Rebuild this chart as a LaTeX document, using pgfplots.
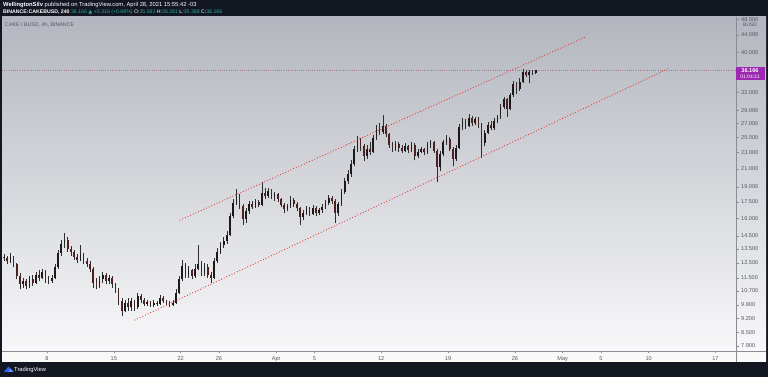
\documentclass[border=0pt]{standalone}
\usepackage{fontspec}
\setmainfont{Liberation Sans}
\newfontfamily\dejavu{DejaVu Sans}
\usepackage{pgfplots}
\pgfplotsset{compat=1.18}
\usepackage{pgfplotstable}
\definecolor{tvdark}{HTML}{131722}
\definecolor{tvtop}{HTML}{B3B6BE}
\definecolor{tvbot}{HTML}{FAFAFB}
\definecolor{tvgreen}{HTML}{26A69A}
\definecolor{tvred}{HTML}{E53935}
\definecolor{tvpurple}{HTML}{9C27B0}
\definecolor{tvaxis}{HTML}{8A8D96}
\definecolor{tvtext}{HTML}{555862}
\definecolor{upc}{HTML}{1A1A1A}
\definecolor{dnc}{HTML}{4E2020}
\definecolor{wick}{HTML}{2E2E2E}
\definecolor{tvblue}{HTML}{2962FF}
\definecolor{pline}{HTML}{A07A8C}

\pgfplotstableread{
d o h l c
2.50 12.9 13.1 12.6 12.8
2.83 12.8 12.95 12.4 12.6
3.17 12.6 13.2 12.5 12.9
3.50 12.9 13.0 12.2 12.4
3.83 12.4 12.5 11.4 11.6
4.17 11.6 11.8 10.8 11.1
4.50 11.1 11.5 10.9 11.3
4.83 11.3 11.4 10.8 11.0
5.17 11.0 11.6 10.9 11.4
5.50 11.4 11.7 11.0 11.2
5.83 11.2 11.9 11.1 11.7
6.17 11.7 12.0 11.3 11.5
6.50 11.5 12.1 11.4 11.9
6.83 11.9 12.0 11.2 11.4
7.17 11.4 11.6 11.1 11.3
7.50 11.3 11.7 11.2 11.5
7.83 11.5 12.4 11.4 12.2
8.17 12.2 13.4 12.1 13.2
8.50 13.2 14.2 13.0 13.9
8.83 13.9 14.7 13.6 14.2
9.17 14.2 14.4 13.3 13.5
9.50 13.5 13.7 13.0 13.3
9.83 13.3 13.4 12.7 12.9
10.17 12.9 13.1 12.5 12.7
10.50 12.7 13.8 12.6 13.1
10.83 13.1 13.2 12.4 12.6
11.17 12.6 12.8 12.2 12.4
11.50 12.4 12.6 11.9 12.1
11.83 12.1 12.2 10.9 11.2
12.17 11.2 11.5 10.8 11.0
12.50 11.0 11.6 10.9 11.4
12.83 11.4 11.9 11.2 11.7
13.17 11.7 11.8 11.1 11.3
13.50 11.3 11.7 11.1 11.5
13.83 11.5 11.6 10.9 11.1
14.17 11.1 11.2 10.6 10.8
14.50 10.8 10.9 9.9 10.1
14.83 10.1 10.3 9.3 9.6
15.17 9.6 10.2 9.5 10.0
15.50 10.0 10.3 9.6 9.8
15.83 9.8 10.3 9.6 10.1
16.17 10.1 10.2 9.6 9.8
16.50 9.8 10.6 9.7 10.4
16.83 10.4 10.5 10.0 10.2
17.17 10.2 10.3 9.85 9.95
17.50 9.95 10.2 9.85 10.05
17.83 10.05 10.1 9.8 9.9
18.17 9.9 10.15 9.8 10.0
18.50 10.0 10.1 9.85 9.95
18.83 9.95 10.45 9.9 10.3
19.17 10.3 10.4 10.0 10.1
19.50 10.1 10.2 9.9 10.0
19.83 10.0 10.1 9.8 9.9
20.17 9.9 10.15 9.85 10.0
20.50 10.0 10.8 9.95 10.6
20.83 10.6 11.6 10.5 11.4
21.17 11.4 12.7 11.3 12.3
21.50 12.3 12.5 11.5 11.7
21.83 11.7 12.3 11.5 12.0
22.17 12.0 12.1 11.4 11.6
22.50 11.6 12.4 11.5 12.1
22.83 12.1 13.8 12.0 12.4
23.17 12.4 12.6 11.6 11.8
23.50 11.8 12.5 11.6 12.2
23.83 12.2 12.4 11.5 11.7
24.17 11.7 11.9 11.2 11.5
24.50 11.5 12.8 11.4 12.6
24.83 12.6 13.6 12.5 13.3
25.17 13.3 14.0 13.1 13.8
25.50 13.8 14.4 13.6 14.1
25.83 14.1 14.9 13.9 14.6
26.17 14.6 16.5 14.5 16.2
26.50 16.2 17.8 16.0 17.4
26.83 17.4 18.8 17.2 18.0
27.17 18.0 18.3 16.8 17.1
27.50 17.1 17.3 15.4 15.9
27.83 15.9 16.9 15.6 16.6
28.17 16.6 17.6 16.4 17.3
28.50 17.3 17.6 16.8 17.0
28.83 17.0 17.8 16.9 17.5
29.17 17.5 17.7 17.0 17.2
29.50 17.2 19.5 17.1 18.4
29.83 18.4 18.9 17.8 18.1
30.17 18.1 18.9 17.9 18.6
30.50 18.6 18.8 17.8 18.0
30.83 18.0 18.5 17.6 18.3
31.17 18.3 18.4 17.5 17.8
31.50 17.8 17.9 17.0 17.2
31.83 17.2 17.4 16.5 16.8
32.17 16.8 17.3 16.6 17.1
32.50 17.1 18.1 16.9 17.7
32.83 17.7 17.9 17.0 17.3
33.17 17.3 17.5 16.6 16.9
33.50 16.9 17.0 15.4 16.1
33.83 16.1 16.7 15.8 16.5
34.17 16.5 17.1 16.3 16.8
34.50 16.8 17.0 16.2 16.4
34.83 16.4 17.2 16.3 16.9
35.17 16.9 17.1 16.2 16.5
35.50 16.5 16.9 16.3 16.7
35.83 16.7 17.3 16.5 17.0
36.17 17.0 17.7 16.8 17.4
36.50 17.4 18.2 17.2 17.9
36.83 17.9 18.1 17.3 17.6
37.17 17.6 17.8 15.6 16.5
37.50 16.5 17.5 16.2 17.3
37.83 17.3 18.8 17.1 18.5
38.17 18.5 20.0 18.3 19.6
38.50 19.6 20.9 19.3 20.4
38.83 20.4 22.0 20.1 21.6
39.17 21.6 23.8 21.3 23.4
39.50 23.4 25.2 23.1 24.6
39.83 24.6 24.9 23.2 23.8
40.17 23.8 24.1 21.9 22.6
40.50 22.6 23.9 22.2 23.5
40.83 23.5 24.3 22.7 23.1
41.17 23.1 25.3 22.9 24.9
41.50 24.9 26.7 24.6 26.2
41.83 26.2 27.0 25.3 25.7
42.17 25.7 28.3 25.4 26.6
42.50 26.6 26.9 25.0 25.4
42.83 25.4 25.6 23.6 24.0
43.17 24.0 24.4 23.1 23.5
43.50 23.5 24.5 23.2 24.1
43.83 24.1 24.3 23.1 23.6
44.17 23.6 23.9 22.9 23.2
44.50 23.2 24.2 23.0 23.8
44.83 23.8 24.0 22.9 23.3
45.17 23.3 24.4 23.0 24.0
45.50 24.0 24.2 22.0 22.6
45.83 22.6 23.5 22.3 23.1
46.17 23.1 23.7 22.9 23.4
46.50 23.4 23.6 22.7 23.0
46.83 23.0 24.3 22.8 23.9
47.17 23.9 24.7 23.6 24.3
47.50 24.3 24.5 22.9 23.2
47.83 23.2 23.4 19.5 21.2
48.17 21.2 23.2 20.8 22.8
48.50 22.8 24.7 22.5 24.3
48.83 24.3 25.3 24.0 24.8
49.17 24.8 25.0 23.2 23.5
49.50 23.5 23.7 21.3 22.2
49.83 22.2 24.0 21.9 23.6
50.17 23.6 26.9 23.4 26.4
50.50 26.4 27.8 26.1 27.3
50.83 27.3 27.6 26.2 26.6
51.17 26.6 28.5 26.4 27.8
51.50 27.8 28.1 26.6 27.0
51.83 27.0 28.0 26.7 27.6
52.17 27.6 27.9 26.3 26.8
52.50 26.8 27.0 22.3 24.2
52.83 24.2 26.0 23.8 25.6
53.17 25.6 27.2 25.4 26.8
53.50 26.8 27.4 26.0 26.3
53.83 26.3 27.8 26.1 27.4
54.17 27.4 28.3 27.1 27.9
54.50 27.9 30.1 27.7 29.6
54.83 29.6 31.3 29.3 30.9
55.17 30.9 31.1 28.0 29.2
55.50 29.2 32.0 29.0 31.6
55.83 31.6 34.2 31.3 33.5
56.17 33.5 34.0 31.8 32.6
56.50 32.6 34.6 32.3 33.9
56.83 33.9 36.4 33.7 35.8
57.17 35.8 36.2 34.9 35.2
57.50 35.2 36.3 33.7 35.9
57.83 35.9 36.2 35.3 35.58
58.17 35.583 36.281 35.388 36.166
}\candles

\begin{document}
\begin{tikzpicture}[x=1pt,y=1pt]
\useasboundingbox (0,0) rectangle (768,377);
\fill[tvdark] (0,0) rectangle (768,377);
\shade[top color=tvtop, bottom color=tvbot] (2,15) rectangle (766,360);
\draw[tvaxis, line width=0.6pt] (736,15) -- (736,360);
\draw[tvaxis, line width=0.6pt] (2,26) -- (766,26);
\begin{axis}[
  at={(2pt,26pt)}, anchor=south west, scale only axis,
  width=734pt, height=334pt,
  ymode=log,
  xmin=2.29, xmax=79.15, ymin=7.68, ymax=48.6,
  axis line style={draw=none},
  clip=true,
  tick align=outside,
  major tick length=2.5pt,
  tick style={tvaxis, line width=0.5pt},
  xtick pos=left, ytick pos=right,
  xticklabel pos=left, yticklabel pos=right,
  ytick={7.9,8.5,9.2,9.9,10.7,11.5,12.5,13.5,14.5,16,17.5,19,21,23,25,27,29,32,40,44,48},
  yticklabels={7.900,8.500,9.200,9.900,10.700,11.500,12.500,13.500,14.500,16.000,17.500,19.000,21.000,23.000,25.000,27.000,29.000,32.000,40.000,44.000,48.000},
  minor ytick={},
  xtick={7,14,21,25,31,35,42,49,56,61,65,70,77},
  xticklabels={8,15,22,26,Apr,5,12,19,26,May,5,10,17},
  yticklabel style={font=\fontsize{5.6}{6}\selectfont, text=tvtext, anchor=west, inner sep=0pt, xshift=2.5pt},
  xticklabel style={font=\fontsize{5.6}{6}\selectfont, text=tvtext, anchor=north, inner sep=0pt, yshift=-2.5pt},
  candle/.style={forget plot, only marks, mark size=0pt, mark options={draw=none, fill=none}},
]
% horizontal last price line
\addplot[forget plot, color=pline, line width=0.45pt, dash pattern=on 1pt off 1.2pt] coordinates {(2.29,36.166) (79.15,36.166)};
% wicks
\addplot[candle,
  error bars/.cd, y dir=plus, y explicit, error mark=none,
  error bar style={wick, line width=0.5pt}]
  table[x=d, y=l, y error plus expr={\thisrow{h}-\thisrow{l}}] {\candles};
% up bodies
\addplot[candle, restrict x to domain=0:100,
  error bars/.cd, y dir=plus, y explicit, error mark=none,
  error bar style={upc, line width=1.7pt}]
  table[x expr={\thisrow{c}>=\thisrow{o} ? \thisrow{d} : -100},
        y expr={min(\thisrow{o},\thisrow{c})},
        y error plus expr={abs(\thisrow{c}-\thisrow{o})}] {\candles};
% down bodies
\addplot[candle, restrict x to domain=0:100,
  error bars/.cd, y dir=plus, y explicit, error mark=none,
  error bar style={dnc, line width=1.7pt}]
  table[x expr={\thisrow{c}<\thisrow{o} ? \thisrow{d} : -100},
        y expr={min(\thisrow{o},\thisrow{c})},
        y error plus expr={abs(\thisrow{c}-\thisrow{o})}] {\candles};
% channel lines
\addplot[forget plot, tvred, line width=1.25pt, line cap=round, dash pattern=on 0pt off 2.9pt] coordinates {(20.93,15.83) (63.34,43.5)};
\addplot[forget plot, tvred, line width=1.25pt, line cap=round, dash pattern=on 0pt off 2.9pt] coordinates {(16.21,9.11) (72.24,36.7)};
\end{axis}
% price label
\fill[tvpurple] (735.7,297) rectangle (764.5,310);
\node[text=white, font=\fontsize{5.6}{6}\selectfont\bfseries, inner sep=0pt] at (750,306.2) {36.166};
\node[text=white, font=\fontsize{5}{6}\selectfont, inner sep=0pt] at (750,300.6) {01:04:21};
\node[text=tvtext, font=\fontsize{5}{6}\selectfont, inner sep=0pt, anchor=west] at (743,352.5) {BUSD};
% header
\node[anchor=west, text=white, font=\fontsize{5.8}{7}\selectfont, inner sep=0pt] at (3,372)
  {\textbf{WellingtonSilv} published on TradingView.com, April 28, 2021 15:55:42 -03};
\node[anchor=west, text=white, font=\fontsize{5.2}{6}\selectfont, inner sep=0pt] at (3,364.5)
  {\textbf{BINANCE:CAKEBUSD, 240} \textcolor{tvgreen}{36.166 {\dejavu ▲} +0.316 (+0.88\%)} O:\textcolor{tvgreen}{35.583} H:\textcolor{tvgreen}{36.281} L:\textcolor{tvgreen}{35.388} C:\textcolor{tvgreen}{36.166}};
\node[anchor=west, text=tvtext, font=\fontsize{5.3}{6}\selectfont, inner sep=0pt] at (5,352) {CAKE / BUSD, 4h, BINANCE};
% footer logo
\fill[tvblue] (4,5) -- (8.5,10.5) -- (11,7.5) -- (13.5,5) -- cycle;
\fill[tvblue!70!white] (8,5) -- (10.5,8.5) -- (13.5,5) -- cycle;
\node[anchor=west, text=white, font=\fontsize{5.8}{7}\selectfont, inner sep=0pt] at (14,7) {TradingView};
\end{tikzpicture}
\end{document}
